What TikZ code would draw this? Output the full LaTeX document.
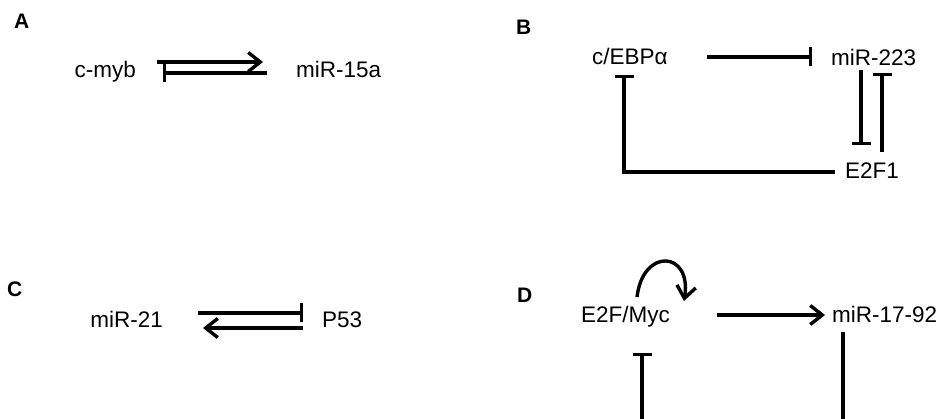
\documentclass[tikz,border=0pt]{standalone}
\usepackage{fontspec}
\setmainfont{Liberation Sans}
\usetikzlibrary{arrows.meta}
\begin{document}
\begin{tikzpicture}[x=1pt,y=-1pt,
  gene/.style={inner sep=0pt, font=\fontsize{22.5}{26}\selectfont},
  panel/.style={inner sep=0pt, font=\fontsize{21}{24}\selectfont\bfseries},
  link/.style={line width=3.4pt},
  act/.style={link, -{Straight Barb[length=12pt,width=19pt]}},
  inh/.style={link, -{Bar[width=19pt]}},
]
\useasboundingbox (0,0) rectangle (942,419);
\clip (0,0) rectangle (942,419);

% panel letters
\node[panel, anchor=base west] (la) at (14,29) {A};
\node[panel, anchor=base west] (lb) at (516,35) {B};
\node[panel, anchor=base west] (lc) at (7,297) {C};
\node[panel, anchor=base west] (ld) at (517,303) {D};

% genes and microRNAs
\node[gene, anchor=base east] (cmyb) at (136,78) {c-myb};
\node[gene, anchor=base west] (mir15a) at (296,78) {miR-15a};
\node[gene, anchor=base west] (cebpa) at (592,65) {c/EBPα};
\node[gene, anchor=base west] (mir223) at (831,66) {miR-223};
\node[gene, anchor=base west] (e2f1) at (845,179) {E2F1};
\node[gene, anchor=base east] (mir21) at (163,328) {miR-21};
\node[gene, anchor=base west] (p53) at (322,328) {P53};
\node[gene, anchor=base west] (e2fmyc) at (581,323) {E2F/Myc};
\node[gene, anchor=base west] (mir1792) at (832,323) {miR-17-92};

% A: c-myb <-> miR-15a
\draw[act] ([shift={(21,-16)}]cmyb.base east) -- ([shift={(-33,-16)}]mir15a.base west);
\draw[inh] ([shift={(-29,-5)}]mir15a.base west) -- ([shift={(27,-5)}]cmyb.base east);

% B: c/EBPa, miR-223, E2F1
\draw[inh] ([shift={(115,-8)}]cebpa.base west) -- ([shift={(-19,-9)}]mir223.base west);
\draw[inh] ([shift={(30,4)}]mir223.base west) -- ([shift={(16,-34)}]e2f1.base west);
\draw[inh] ([shift={(37,-27)}]e2f1.base west) -- ([shift={(51,7)}]mir223.base west);
\draw[inh] ([shift={(-10,-7)}]e2f1.base west) -| ([shift={(32,10)}]cebpa.base west);

% C: miR-21 <-> P53
\draw[inh] ([shift={(35,-15)}]mir21.base east) -- ([shift={(-19,-15)}]p53.base west);
\draw[act] ([shift={(-19,0)}]p53.base west) -- ([shift={(40,0)}]mir21.base east);

% D: E2F/Myc and miR-17-92
\draw[act] ([shift={(136,-8)}]e2fmyc.base west) -- ([shift={(-7,-8)}]mir1792.base west);
\draw[act] ([shift={(56,-26)}]e2fmyc.base west) .. controls +(6,-50) and +(8,-50) .. ([shift={(103,-22)}]e2fmyc.base west);
\draw[inh] ([shift={(11,9)}]mir1792.base west) |- ([shift={(61,98)}]e2fmyc.base west) -- ([shift={(61,30)}]e2fmyc.base west);
\end{tikzpicture}
\end{document}
